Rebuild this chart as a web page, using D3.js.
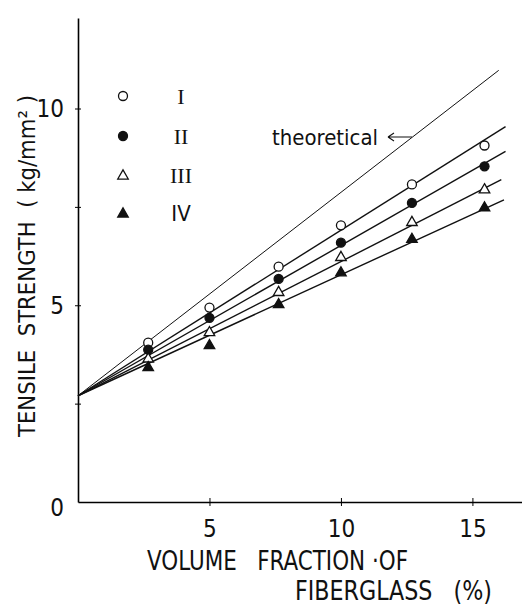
<!DOCTYPE html>
<html>
<head>
<meta charset="utf-8">
<script src="https://cdn.jsdelivr.net/npm/d3@7"></script>
<style>
  body { margin: 0; background: #fff; }
  text { font-family: "DejaVu Sans Condensed", "Liberation Sans Narrow", "DejaVu Sans", sans-serif; fill: #111; white-space: pre; }
</style>
</head>
<body>
<script>
var width = 522, height = 605;

// measured points (volume fraction %, tensile strength kg/mm2)
var fractions = [2.67, 5.0, 7.63, 10.0, 12.7, 15.46];
var seriesI   = [4.05, 4.94, 5.98, 7.03, 8.07, 9.06];
var seriesII  = [3.87, 4.68, 5.67, 6.59, 7.60, 8.53];
var seriesIII = [3.66, 4.33, 5.35, 6.24, 7.13, 7.96];
var seriesIV  = [3.44, 4.00, 5.04, 5.85, 6.70, 7.50];

// fitted straight lines: common intercept at 0 %, end point of each
var intercept = 2.7;
var fitEndX = [16.26, 16.26, 16.1, 16.2];
var fitEndY = [9.54, 8.91, 8.19, 7.68];
var theoryEnd = [16.0, 10.97];

var legendLabels = ["I", "II", "III", "IV"];
var yTicks = [0, 2.5, 5, 7.5, 10];
var xTicks = [5, 10, 15];

var svg = d3.select("body").append("svg")
    .attr("width", width)
    .attr("height", height);

var x = d3.scaleLinear().domain([0, 17]).range([78, 525]);
var y = d3.scaleLinear().domain([0, 12.3]).range([502, 18]);

// axes
var yAxis = svg.append("g")
    .attr("transform", "translate(" + x(0) + ",0)")
    .call(d3.axisLeft(y).tickValues(yTicks).tickSize(4).tickSizeOuter(0).tickPadding(10)
      .tickFormat(function(d) { return d % 5 == 0 ? d : ""; }));
yAxis.select(".domain").attr("stroke-width", 1.6);
yAxis.selectAll(".tick line").attr("x1", -3).attr("x2", 3);
yAxis.selectAll(".tick text")
    .attr("font-size", 24)
    .attr("dy", function(d) { return d == 0 ? "0.55em" : "0.34em"; })
    .attr("font-family", "DejaVu Sans Condensed, sans-serif");
yAxis.selectAll(".tick").filter(function(d) { return d == 0; }).select("line").remove();

var xAxis = svg.append("g")
    .attr("transform", "translate(0," + y(0) + ")")
    .call(d3.axisBottom(x).tickValues(xTicks).tickSize(4).tickSizeOuter(0).tickPadding(14));
xAxis.select(".domain").attr("stroke-width", 1.6);
xAxis.selectAll(".tick line").attr("y1", -4).attr("y2", 4);
xAxis.selectAll(".tick text")
    .attr("font-size", 24)
    .attr("font-family", "DejaVu Sans Condensed, sans-serif");

// theoretical line
svg.append("line")
    .attr("x1", x(0)).attr("y1", y(intercept))
    .attr("x2", x(theoryEnd[0])).attr("y2", y(theoryEnd[1]))
    .attr("stroke", "#111")
    .attr("stroke-width", 1);

// fitted lines
svg.selectAll(".fit")
  .data(fitEndX)
  .enter().append("line")
    .attr("class", "fit")
    .attr("x1", x(0)).attr("y1", y(intercept))
    .attr("x2", function(d) { return x(d); })
    .attr("y2", function(d, i) { return y(fitEndY[i]); })
    .attr("stroke", "#111")
    .attr("stroke-width", 1.4);

var allSeries = [seriesI, seriesII, seriesIII, seriesIV];
var tri = d3.symbol().type(d3.symbolTriangle).size(48);

function drawMarker(g, k) {
  if (k < 2) {
    g.append("circle").attr("r", 4.5)
      .attr("fill", k == 0 ? "#fff" : "#111")
      .attr("stroke", "#111").attr("stroke-width", 1.3);
  } else {
    g.append("path").attr("d", tri)
      .attr("transform", "translate(0,1)")
      .attr("fill", k == 2 ? "#fff" : "#111")
      .attr("stroke", "#111").attr("stroke-width", 1.3);
  }
}

allSeries.forEach(function(vals, k) {
  vals.forEach(function(v, i) {
    var g = svg.append("g").attr("transform", "translate(" + x(fractions[i]) + "," + y(v) + ")");
    drawMarker(g, k);
  });
});

// legend
var legendY = [96, 136, 175, 213];
legendLabels.forEach(function(lab, k) {
  var g = svg.append("g").attr("transform", "translate(123," + legendY[k] + ")");
  drawMarker(g, k);
  svg.append("text")
    .attr("x", 181).attr("y", legendY[k] + 8)
    .attr("text-anchor", "middle")
    .attr("font-size", k < 3 ? 22 : 22)
    .style("font-family", k < 3 ? "'Liberation Serif', serif" : "'DejaVu Sans Condensed', sans-serif")
    .text(lab);
});

// annotation
svg.append("text")
    .attr("x", 272).attr("y", 145)
    .attr("font-size", 21)
    .attr("textLength", 106)
    .attr("lengthAdjust", "spacingAndGlyphs")
    .text("theoretical");
svg.append("path")
    .attr("d", "M388,137 L412,137 M388,137 L394,133 M388,137 L394,141")
    .attr("fill", "none")
    .attr("stroke", "#111")
    .attr("stroke-width", 1.1);

// axis titles
svg.append("text")
    .attr("transform", "translate(35,437) rotate(-90)")
    .attr("font-size", 23)
    .attr("textLength", 342)
    .attr("lengthAdjust", "spacingAndGlyphs")
    .text("TENSILE  STRENGTH  ( kg/mm² )");

svg.append("text")
    .attr("x", 147).attr("y", 570)
    .attr("font-size", 26)
    .attr("textLength", 261)
    .attr("lengthAdjust", "spacingAndGlyphs")
    .text("VOLUME   FRACTION ·OF");

svg.append("text")
    .attr("x", 295).attr("y", 600)
    .attr("font-size", 26)
    .attr("textLength", 197)
    .attr("lengthAdjust", "spacingAndGlyphs")
    .text("FIBERGLASS   (%)");
</script>
</body>
</html>
